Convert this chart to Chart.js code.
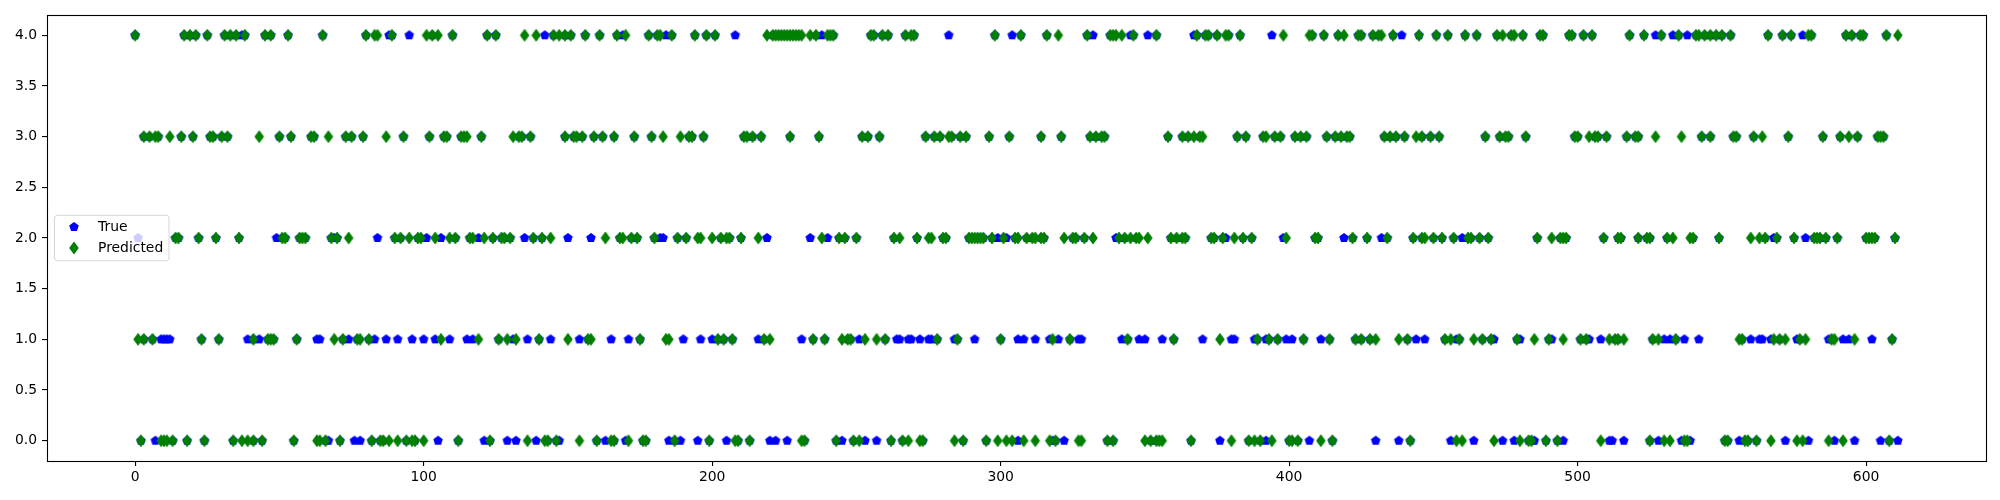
<!DOCTYPE html>
<html>
<head>
<meta charset="utf-8">
<script src="https://cdn.jsdelivr.net/npm/chart.js@4.4.1/dist/chart.umd.min.js"></script>
<style>
  html, body { margin: 0; padding: 0; background: #fff; }
  canvas { display: block; }
</style>
</head>
<body>
<canvas id="grafico" width="2000" height="500"></canvas>
<script>
// -----------------------------
// Datos: índice de muestra (eje x) agrupado por clase
// -----------------------------
const seriesLabels = ['True', 'Predicted'];
const xTicks = [0, 100, 200, 300, 400, 500, 600];
const yTicks = [0, 0.5, 1, 1.5, 2, 2.5, 3, 3.5, 4];
const sampleCount = 612;

// Predicción por clase (rombos verdes)
const pred0 = [2, 9, 10, 11, 13, 18, 24, 34, 37, 39, 41, 44, 55, 63, 64, 66, 71, 82, 85, 86, 88, 91, 94, 96, 97, 100,
  112, 123, 136, 142, 143, 146, 154, 160, 165, 166, 171, 176, 177, 187, 199, 208, 209, 213, 231, 232, 243, 249, 251, 262,
  266, 268, 272, 273, 284, 287, 295, 299, 302, 304, 308, 312, 317, 319, 327, 328, 337, 339, 350, 352,
  354, 355, 356, 366, 380, 386, 388, 390, 394, 400, 401, 403, 411, 415, 442, 458, 460, 471, 480, 483, 484, 489, 493, 508,
  525, 530, 532, 537, 538, 551, 552, 558, 559, 562, 567, 576, 578, 587, 592, 608];
const pred1 = [1, 3, 6, 23, 29, 41, 46, 47, 48, 56, 69, 72, 77, 78, 81, 106, 119, 126, 129, 132, 140, 150, 157, 158, 175,
  184, 185, 202, 204, 207, 218, 220, 235, 239, 245, 247, 248, 253, 257, 260, 278, 285, 300, 318, 324, 344,
  360, 376, 389, 393, 396, 405, 414, 423, 425, 428, 430, 438, 441, 454, 456, 459, 464, 467, 470, 479, 485, 490, 495,
  501, 503, 511, 513, 514, 516, 526, 528, 534, 556, 557, 568, 570, 572, 577, 579, 588, 589, 596, 609];
const pred2 = [14, 15, 22, 28, 36, 51, 52, 57, 58, 59, 68, 70, 74, 90, 92, 95, 98, 99, 104, 109, 111, 116, 117, 121, 124,
  127, 128, 130, 138, 141, 144, 163, 168, 169, 172, 174, 180, 188, 191, 195, 196, 200, 203, 205, 206, 210, 216, 238, 244,
  246, 250, 263, 265, 271, 275, 276, 280, 281, 289, 290, 291, 292, 293, 294, 297, 301, 305, 306, 309, 311, 312, 314, 315,
  322, 325, 326, 329, 332, 341, 343, 345, 347, 348, 351, 359, 361, 363, 364, 373, 374, 377, 381, 384, 387, 399, 409, 410,
  422, 427, 434, 443, 446, 447, 450, 453, 457, 462, 463, 466, 469, 486, 491, 494, 495, 496, 509, 514, 515, 521, 524, 525,
  531, 533, 539, 540, 549, 560, 563, 565, 569, 575, 582, 583, 584, 586, 590, 600, 601, 602, 603, 610];
const pred3 = [3, 5, 7, 8, 12, 16, 20, 26, 27, 30, 32, 43, 50, 54, 61, 62, 67, 73, 75, 79, 87, 93, 102, 107, 108, 113, 114,
  115, 120, 131, 133, 134, 137, 149, 152, 153, 155, 159, 162, 166, 173, 179, 183, 189, 192, 193, 197, 211, 212, 214, 217,
  227, 237, 252, 254, 258, 274, 277, 279, 282, 283, 286, 288, 296, 303, 314, 321, 331, 333, 335, 336,
  358, 363, 365, 367, 369, 370, 382, 385, 391, 392, 395, 397, 402, 404, 406, 413, 416, 418, 420, 421, 433, 435, 437, 440,
  444, 446, 449, 452, 468, 473, 475, 476, 482, 499, 500, 504, 506, 507, 510, 517, 520, 521, 527,
  536, 543, 546, 554, 555, 561, 564, 573, 585, 591, 594, 597, 604, 605, 606];
const pred4 = [0, 17, 19, 21, 25, 31, 33, 35, 38, 45, 47, 53, 65, 80, 83, 84, 89, 101, 103, 105, 110, 122, 125, 135, 139,
  145, 147, 149, 151, 156, 161, 167, 170, 178, 181, 182, 186, 194, 198, 201, 219, 221, 222, 223, 224, 225, 226, 227, 228,
  229, 230, 231, 234, 236, 240, 241, 242, 255, 256, 259, 261, 267, 269, 270, 298, 307, 316, 320, 330, 338, 339, 340, 342,
  346, 354, 368, 371, 372, 375, 378, 379, 383, 398, 407, 408, 412, 417, 419, 424, 425, 429, 431, 432, 436,
  445, 451, 455, 461, 465, 472, 474, 477, 478, 481, 487, 488, 497, 498, 502, 505, 518, 523, 529,
  535, 541, 542, 544, 546, 548, 550, 553, 566, 571, 574, 580, 581, 593, 595, 598, 599, 607, 611];

// Clase real donde difiere de la predicción (pentágonos azules visibles)
const miss0 = [7, 67, 76, 78, 105, 121, 129, 132, 139, 147, 163, 170, 185, 189, 195, 205, 220, 222, 226, 245, 253, 257,
  306, 318, 322, 376, 392, 407, 430, 438, 456, 464, 474, 478, 485, 495, 511, 512, 516, 528, 536, 539, 556, 572, 580, 589,
  596, 605, 611];
const miss1 = [9, 10, 11, 12, 39, 43, 63, 64, 74, 83, 87, 91, 96, 100, 104, 109, 115, 117, 131, 136, 144, 154, 165, 171,
  190, 196, 200, 216, 231, 251, 264, 265, 268, 269, 272, 275, 276, 284, 291, 306, 308, 312, 317, 320, 327, 328, 342, 348,
  350, 356, 370, 380, 381, 388, 392, 399, 401, 411, 444, 447, 458, 471, 480, 491, 504, 508, 530, 532, 537, 542, 560, 563,
  564, 567, 576, 587, 592, 594, 602];
const miss2 = [1, 49, 69, 84, 101, 106, 119, 135, 150, 158, 182, 183, 219, 234, 240, 299, 302, 340, 378, 398, 419, 432,
  460, 568, 579];
const miss3 = [];
const miss4 = [37, 88, 95, 142, 169, 184, 208, 238, 282, 304, 332, 345, 351, 367, 394, 439, 527, 533, 538, 578];

const predByClass = [pred0, pred1, pred2, pred3, pred4];
const missByClass = [miss0, miss1, miss2, miss3, miss4];

// -----------------------------
// Marcadores estilo matplotlib ('p' azul y 'd' verde)
// -----------------------------
function Marcador_Pentagono(color) {
    const c = document.createElement('canvas');
    c.width = 12; c.height = 12;
    const g = c.getContext('2d');
    const r = 4.17;
    g.beginPath();
    for (let k = 0; k < 5; k++) {
        const a = (-90 + k * 72) * Math.PI / 180;
        const px = 6 + r * Math.cos(a), py = 6 + r * Math.sin(a);
        if (k === 0) g.moveTo(px, py); else g.lineTo(px, py);
    }
    g.closePath();
    g.fillStyle = color; g.strokeStyle = color; g.lineWidth = 1.39; g.lineJoin = 'miter';
    g.fill(); g.stroke();
    return c;
}

function Marcador_Rombo(color) {
    const c = document.createElement('canvas');
    c.width = 12; c.height = 16;
    const g = c.getContext('2d');
    const hh = 5.4, hw = 3.9;
    g.beginPath();
    g.moveTo(6, 8 - hh); g.lineTo(6 + hw, 8); g.lineTo(6, 8 + hh); g.lineTo(6 - hw, 8);
    g.closePath();
    g.fillStyle = color; g.strokeStyle = color; g.lineWidth = 1.39; g.lineJoin = 'round';
    g.fill(); g.stroke();
    return c;
}

const pentagono = Marcador_Pentagono('#0000ff');
const rombo = Marcador_Rombo('#008000');

// puntos de la predicción
const puntosPred = [];
predByClass.forEach((lista, clase) => lista.forEach(x => puntosPred.push({ x: x, y: clase })));

// puntos reales: donde hay error se usa la clase real, si no coincide con la predicción
const errores = new Set();
missByClass.forEach(lista => lista.forEach(x => errores.add(x)));
const puntosReal = [];
missByClass.forEach((lista, clase) => lista.forEach(x => puntosReal.push({ x: x, y: clase })));
puntosPred.forEach(p => { if (!errores.has(p.x)) puntosReal.push({ x: p.x, y: p.y }); });

// -----------------------------
// Plugins: marco completo y leyenda tipo matplotlib
// -----------------------------
const marcoPlugin = {
    id: 'marco',
    afterDatasetsDraw(chart) {
        const { ctx, chartArea: ca } = chart;
        ctx.save();
        ctx.strokeStyle = '#000';
        ctx.lineWidth = 1.1;
        ctx.strokeRect(Math.round(ca.left) + 0.5, Math.round(ca.top) + 0.5,
            Math.round(ca.right) - Math.round(ca.left), Math.round(ca.bottom) - Math.round(ca.top));
        ctx.restore();
    }
};

const leyendaPlugin = {
    id: 'leyenda',
    afterDraw(chart) {
        const { ctx, chartArea: ca } = chart;
        const x0 = ca.left + 7.5, w = 114.5, h = 45.5;
        const cy = (ca.top + ca.bottom) / 2;
        const y0 = cy - h / 2;
        ctx.save();
        ctx.beginPath();
        ctx.roundRect(x0, y0, w, h, 3);
        ctx.fillStyle = 'rgba(255,255,255,0.8)';
        ctx.fill();
        ctx.strokeStyle = 'rgba(204,204,204,0.8)';
        ctx.lineWidth = 1;
        ctx.stroke();
        const mx = x0 + 19.5;
        ctx.drawImage(pentagono, mx - pentagono.width / 2, cy - 11 - pentagono.height / 2);
        ctx.drawImage(rombo, mx - rombo.width / 2, cy + 10 - rombo.height / 2);
        ctx.fillStyle = '#000';
        ctx.font = '13.9px "DejaVu Sans"';
        ctx.textBaseline = 'middle';
        ctx.textAlign = 'left';
        ctx.fillText(seriesLabels[0], x0 + 43.5, cy - 11);
        ctx.fillText(seriesLabels[1], x0 + 43.5, cy + 10);
        ctx.restore();
    }
};

const fuente = { family: 'DejaVu Sans', size: 13.9 };

new Chart(document.getElementById('grafico'), {
    type: 'scatter',
    data: {
        datasets: [
            {
                label: seriesLabels[0],
                data: puntosReal,
                pointStyle: pentagono,
                backgroundColor: '#0000ff',
                borderColor: '#0000ff',
                order: 2
            },
            {
                label: seriesLabels[1],
                data: puntosPred,
                pointStyle: rombo,
                backgroundColor: '#008000',
                borderColor: '#008000',
                order: 1
            }
        ]
    },
    options: {
        responsive: false,
        animation: false,
        events: [],
        layout: { padding: { left: 0, top: 15, right: 14, bottom: 0 } },
        plugins: {
            legend: { display: false },
            tooltip: { enabled: false }
        },
        scales: {
            x: {
                type: 'linear',
                min: -0.05 * (sampleCount - 1),
                max: 1.05 * (sampleCount - 1),
                afterBuildTicks: scale => { scale.ticks = xTicks.map(v => ({ value: v })); },
                afterFit: scale => { scale.height = 39; },
                border: { display: false },
                grid: { drawOnChartArea: false, drawTicks: true, tickLength: 5, color: '#000', lineWidth: 1.1 },
                ticks: { color: '#000', font: fuente, padding: 3, autoSkip: false, maxRotation: 0,
                    callback: v => String(v) }
            },
            y: {
                type: 'linear',
                min: -0.2,
                max: 4.2,
                afterBuildTicks: scale => { scale.ticks = yTicks.map(v => ({ value: v })); },
                afterFit: scale => { scale.width = 47; },
                border: { display: false },
                grid: { drawOnChartArea: false, drawTicks: true, tickLength: 5, color: '#000', lineWidth: 1.1 },
                ticks: { color: '#000', font: fuente, padding: 5, callback: v => v.toFixed(1) }
            }
        }
    },
    plugins: [marcoPlugin, leyendaPlugin]
});
</script>
</body>
</html>
